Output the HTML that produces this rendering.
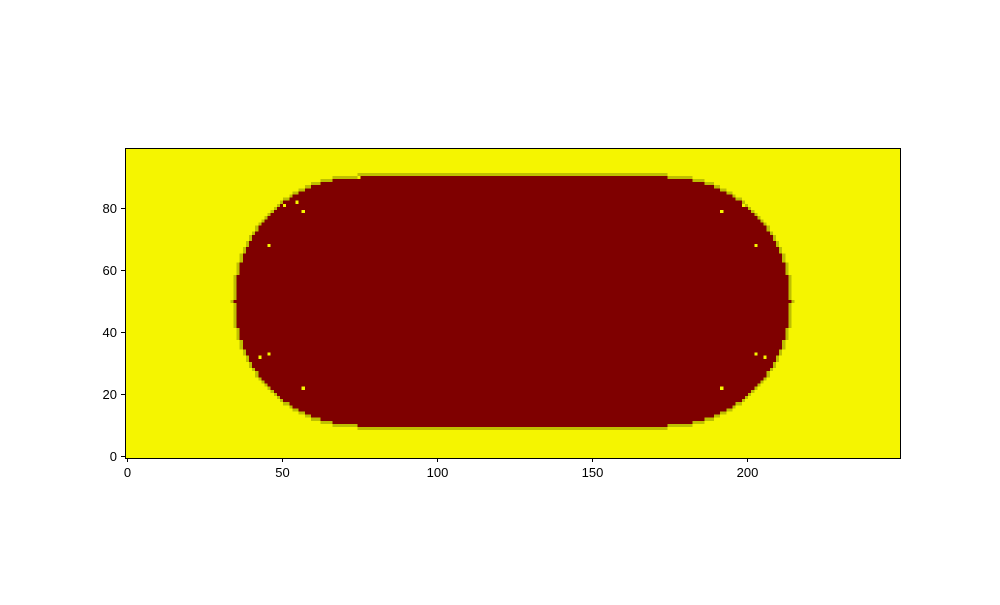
<!DOCTYPE html>
<html><head><meta charset="utf-8"><style>
body{margin:0;background:#fff;font-family:"Liberation Sans",sans-serif}
</style></head><body>
<svg id="chart" width="1000" height="600" xmlns="http://www.w3.org/2000/svg" shape-rendering="crispEdges">
<rect width="1000" height="600" fill="#fff"/>
<g id="cells"></g>
<rect x="125.5" y="148.5" width="775" height="310" fill="none" stroke="#000" stroke-width="1"/>
<g id="axes" font-size="13" fill="#000"></g>
</svg>
<script>
const gridW = 250, gridH = 100;
const stadiumCenterY = 50, stadiumRadius = 40, stadiumLeftX = 75, stadiumRightX = 174;
const xTicks = [0, 50, 100, 150, 200];
const yTicks = [0, 20, 40, 60, 80];
const holes = [[46,33],[43,32],[57,22],[46,68],[55,82],[57,79],[51,81],[192,79],[203,68],[206,32],[203,33],[192,22],[199,81],[75,90]];
const colors = {bg:'#f5f500', fill:'#7f0000', edge:'#bfbf00'};
const X0=125, Y1=458, S=3.1;
const sx = v => X0 + (v + 0.5) * S;
const sy = v => Y1 - (v + 0.5) * S;
const NS='http://www.w3.org/2000/svg';
const cells=document.getElementById('cells');
function rect(x0,y0,w,h,c,name){
  const r=document.createElementNS(NS,'rect');
  r.setAttribute('x',sx(x0-0.5));r.setAttribute('y',sy(y0+h-0.5));
  r.setAttribute('width',w*S);r.setAttribute('height',h*S);r.setAttribute('fill',c);
  
  
  cells.appendChild(r);
}
rect(0,0,gridW,gridH,colors.bg,'background-region');
const spans=[];
for(let y=0;y<gridH;y++){
  const dy=y-stadiumCenterY;
  if(Math.abs(dy)>stadiumRadius) continue;
  const hw=Math.sqrt(stadiumRadius*stadiumRadius-dy*dy);
  const l=Math.ceil(stadiumLeftX-hw), r=Math.floor(stadiumRightX+hw);
  spans.push([y,l,r]);
  rect(l-1,y,r-l+3,1,colors.edge,'edge-row');
}
for(let x=Math.ceil(stadiumLeftX-stadiumRadius);x<=Math.floor(stadiumRightX+stadiumRadius);x++){
  let dx=0;
  if(x<stadiumLeftX) dx=stadiumLeftX-x; else if(x>stadiumRightX) dx=x-stadiumRightX;
  const hh=Math.sqrt(Math.max(0,stadiumRadius*stadiumRadius-dx*dx));
  const t=Math.floor(stadiumCenterY+hh), b=Math.ceil(stadiumCenterY-hh);
  rect(x,b-1,1,t-b+3,colors.edge,'edge-col');
}
spans.forEach(s=>rect(s[1],s[0],s[2]-s[1]+1,1,colors.fill,'fill-row'));
holes.forEach(h=>rect(h[0],h[1],1,1,colors.bg,'hole-cell'));
const axes=document.getElementById('axes');
function line(x1,y1,x2,y2,name){const l=document.createElementNS(NS,'line');
 l.setAttribute('x1',x1);l.setAttribute('y1',y1);l.setAttribute('x2',x2);l.setAttribute('y2',y2);l.setAttribute('stroke','#000');
 
 
 axes.appendChild(l);}
function text(x,y,s,anchor,name){const t=document.createElementNS(NS,'text');
 t.setAttribute('x',x);t.setAttribute('y',y);t.setAttribute('text-anchor',anchor);t.textContent=s;
 
 
 axes.appendChild(t);}
xTicks.forEach(v=>{const x=Math.round(sx(v))+0.5;line(x,458,x,462,'x-tick');text(x,477,String(v),'middle','x-tick-label');});
yTicks.forEach(v=>{const y=Math.round(sy(v))+0.5;line(121,y,125,y,'y-tick');text(117,y+4.5,String(v),'end','y-tick-label');});
</script>
</body></html>
